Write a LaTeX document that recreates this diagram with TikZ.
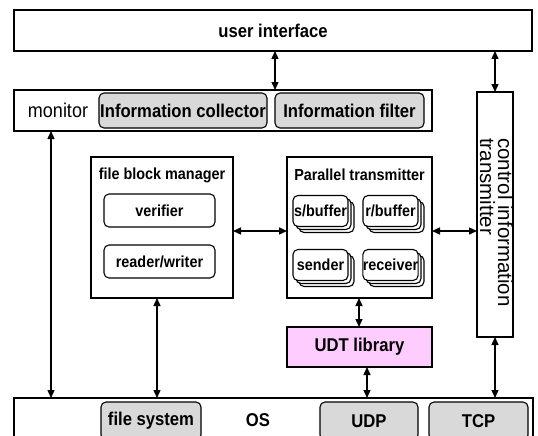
\documentclass[tikz,border=0pt]{standalone}
\usepackage{fontspec}
\setmainfont{Liberation Sans}
\newfontfamily\narrowfont{Liberation Sans}[FakeStretch=0.9]
\usetikzlibrary{arrows.meta}
\definecolor{boxgray}{HTML}{D9D9D9}
\definecolor{udtpink}{HTML}{FFCCFF}

% three stacked rounded boxes: name, centre x, centre y, text
\newcommand\stackbox[4]{%
  \foreach \d in {6,3}
    \node[part, minimum width=55pt, minimum height=31pt] (#1-\d) at (#2+\d,#3+\d) {};
  \node[part, small label, minimum width=55pt, minimum height=31pt] (#1) at (#2,#3) {#4};
}

\begin{document}
\begin{tikzpicture}[x=1pt,y=-1pt,
  frame/.style={draw, line width=1.8pt, fill=white, inner sep=0pt, outer sep=0pt},
  part/.style={draw, line width=1.1pt, rounded corners=5pt, inner sep=0pt, outer sep=0pt, fill=white},
  grey part/.style={part, fill=boxgray},
  big label/.style={font=\narrowfont\bfseries\fontsize{18.5}{20}\selectfont},
  small label/.style={font=\narrowfont\bfseries\fontsize{16}{18}\selectfont},
  link/.style={line width=1.4pt, {Triangle[length=8pt,width=7pt]}-{Triangle[length=8pt,width=7pt]}},
]
\useasboundingbox (0,0) rectangle (538,436);
\clip (0,0) rectangle (538,436);

% user interface
\node[frame, big label, minimum width=518pt, minimum height=41pt] (ui) at (273,30.5) {user interface};

% monitor bar
\node[frame, minimum width=418pt, minimum height=41pt] (mon) at (223,110.5) {};
\node[font=\narrowfont\fontsize{20}{22}\selectfont, inner sep=0pt] (montxt) at (58,110) {monitor};
\node[grey part, big label, minimum width=168pt, minimum height=35pt] (coll) at (183,110.5) {Information collector};
\node[grey part, big label, minimum width=149pt, minimum height=35pt] (filt) at (349.5,110.5) {Information filter};

% control information transmitter
\node[frame, minimum width=36pt, minimum height=245pt] (ctrl) at (495,214.5) {};
\node[rotate=-90, anchor=west, align=left, inner sep=0pt,
      font=\fontsize{20.5}{18}\selectfont] (ctrltxt) at (496.5,138) {control information\\transmitter};

% file block manager
\node[frame, minimum width=142pt, minimum height=141pt] (fbm) at (162,227.5) {};
\node[small label] (fbmtxt) at (162,175) {file block manager};
\node[part, small label, minimum width=111pt, minimum height=33pt] (ver) at (159.5,210.5) {verifier};
\node[part, small label, minimum width=111pt, minimum height=33pt] (rw) at (159.5,261.5) {reader/writer};

% parallel transmitter
\node[frame, minimum width=145pt, minimum height=141pt] (pt) at (359.5,227.5) {};
\node[small label] (pttxt) at (359.5,175) {Parallel transmitter};
\stackbox{sbuf}{320.5}{211}{s/buffer}
\stackbox{rbuf}{390.5}{211}{r/buffer}
\stackbox{snd}{320.5}{265}{sender}
\stackbox{rcv}{390.5}{265}{receiver}

% UDT library
\node[frame, fill=udtpink, big label, minimum width=145pt, minimum height=40pt] (udt) at (359.5,347) {UDT library};

% operating system
\node[frame, minimum width=519pt, minimum height=62pt] (os) at (273.5,429) {};
\node[grey part, big label, minimum width=100pt, minimum height=38pt] (fs) at (151,421) {file system};
\node[big label] (ostxt) at (258,420) {OS};
\node[grey part, big label, minimum width=98pt, minimum height=38pt] (udp) at (369,421) {UDP};
\node[grey part, big label, minimum width=99pt, minimum height=38pt] (tcp) at (478.5,421) {TCP};

% connectors
\coordinate (ym) at (0,231);
\coordinate (xa) at (51,0);
\coordinate (xb) at (157,0);
\coordinate (xc) at (359,0);
\coordinate (xd) at (367,0);
\draw[link] (ui.south -| filt.west) -- (mon.north -| filt.west);
\draw[link] (ui.south -| ctrl.north) -- (ctrl.north);
\draw[link] (mon.south -| xa) -- (os.north -| xa);
\draw[link] (fbm.east |- ym) -- (pt.west |- ym);
\draw[link] (pt.east |- ym) -- (ctrl.west |- ym);
\draw[link] (fbm.south -| xb) -- (os.north -| xb);
\draw[link] (pt.south -| xc) -- (udt.north -| xc);
\draw[link] (udt.south -| xd) -- (os.north -| xd);
\draw[link] (ctrl.south) -- (os.north -| ctrl.south);
\end{tikzpicture}
\end{document}
